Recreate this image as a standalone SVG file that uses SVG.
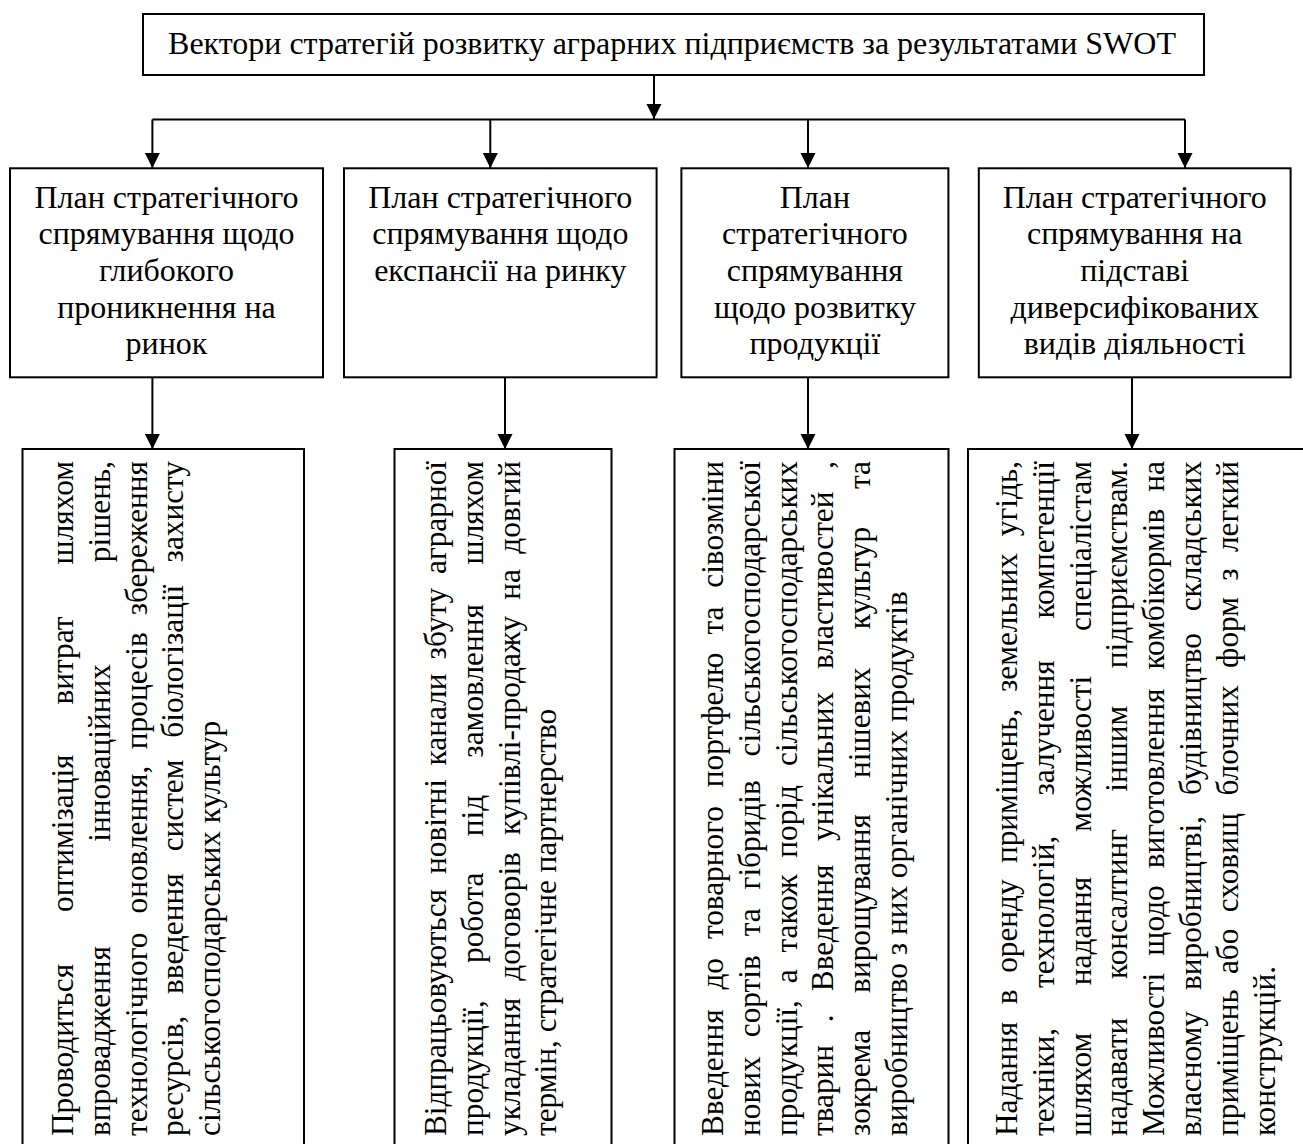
<svg xmlns="http://www.w3.org/2000/svg" width="1303" height="1144" viewBox="0 0 1303 1144">
<style>
.box{fill:#fff;stroke:#000;stroke-width:2}
.t{font-family:"Liberation Serif","Times New Roman",serif;font-size:32px;fill:#000}
.r{font-family:"Liberation Serif","Times New Roman",serif;font-size:31.3px;fill:#000}
.c{text-anchor:middle}
.m{text-anchor:middle}
.e{text-anchor:end}
.ln{fill:none;stroke:#000;stroke-width:2}
</style>
<defs>
<marker id="ah" markerUnits="userSpaceOnUse" markerWidth="16" markerHeight="16" refX="15" refY="7.5" orient="auto">
<path d="M0,0 L15,7.5 L0,15 Z" fill="#000"/>
</marker>
</defs>
<rect width="1303" height="1144" fill="#fff"/>

<g id="connectors">
<line class="ln" x1="654" y1="75" x2="654" y2="119" marker-end="url(#ah)"/>
<line class="ln" x1="152.4" y1="119.5" x2="1185" y2="119.5"/>
<line class="ln" x1="152.4" y1="119.5" x2="152.4" y2="168" marker-end="url(#ah)"/>
<line class="ln" x1="490.3" y1="119.5" x2="490.3" y2="168" marker-end="url(#ah)"/>
<line class="ln" x1="808" y1="119.5" x2="808" y2="168" marker-end="url(#ah)"/>
<line class="ln" x1="1185" y1="119.5" x2="1185" y2="168" marker-end="url(#ah)"/>
<line class="ln" x1="152.4" y1="377" x2="152.4" y2="449" marker-end="url(#ah)"/>
<line class="ln" x1="505" y1="377" x2="505" y2="449" marker-end="url(#ah)"/>
<line class="ln" x1="808" y1="377" x2="808" y2="449" marker-end="url(#ah)"/>
<line class="ln" x1="1132" y1="377" x2="1132" y2="449" marker-end="url(#ah)"/>
</g>

<g id="top">
<rect class="box" x="143" y="14" width="1061" height="61"/>
<text class="t c" x="672" y="53.5">Вектори стратегій розвитку аграрних підприємств за результатами SWOT</text>
</g>

<g id="plan1">
<rect class="box" x="10" y="168.3" width="313" height="209"/>
<text class="t c" x="166.5" y="207.5">План стратегічного</text>
<text class="t c" x="166.5" y="244.2">спрямування щодо</text>
<text class="t c" x="166.5" y="280.9">глибокого</text>
<text class="t c" x="166.5" y="317.6">проникнення на</text>
<text class="t c" x="166.5" y="354.3">ринок</text>
</g>

<g id="plan2">
<rect class="box" x="344" y="168.3" width="312.6" height="209"/>
<text class="t c" x="500.3" y="207.5">План стратегічного</text>
<text class="t c" x="500.3" y="244.2">спрямування щодо</text>
<text class="t c" x="500.3" y="280.9">експансії на ринку</text>
</g>

<g id="plan3">
<rect class="box" x="681.4" y="168.3" width="267" height="209"/>
<text class="t c" x="814.9" y="207.5">План</text>
<text class="t c" x="814.9" y="244.2">стратегічного</text>
<text class="t c" x="814.9" y="280.9">спрямування</text>
<text class="t c" x="814.9" y="317.6">щодо розвитку</text>
<text class="t c" x="814.9" y="354.3">продукції</text>
</g>

<g id="plan4">
<rect class="box" x="978.8" y="168.3" width="311.8" height="209"/>
<text class="t c" x="1134.7" y="207.5">План стратегічного</text>
<text class="t c" x="1134.7" y="244.2">спрямування на</text>
<text class="t c" x="1134.7" y="280.9">підставі</text>
<text class="t c" x="1134.7" y="317.6">диверсифікованих</text>
<text class="t c" x="1134.7" y="354.3">видів діяльності</text>
</g>

<g id="detail1">
<rect class="box" x="22.5" y="449" width="281.5" height="720"/>
<g transform="translate(73,1136) rotate(-90)">
<text class="r" y="0"><tspan x="0">Проводиться</tspan><tspan class="m" x="302.8">оптимізація</tspan><tspan class="m" x="475.5">витрат</tspan><tspan class="e" x="675">шляхом</tspan></text>
<text class="r" y="36.8"><tspan x="0">впровадження</tspan><tspan class="m" x="383.1">інноваційних</tspan><tspan class="e" x="675">рішень,</tspan></text>
<text class="r" y="73.6"><tspan x="0">технологічного</tspan><tspan class="m" x="296.4">оновлення,</tspan><tspan class="m" x="445.3">процесів</tspan><tspan class="e" x="675">збереження</tspan></text>
<text class="r" y="110.4"><tspan x="0">ресурсів,</tspan><tspan class="m" x="202.3">введення</tspan><tspan class="m" x="330.6">систем</tspan><tspan class="m" x="474.8">біологізації</tspan><tspan class="e" x="675">захисту</tspan></text>
<text class="r" y="147.2">сільськогосподарських культур</text>
</g>
</g>

<g id="detail2">
<rect class="box" x="394.5" y="449" width="217" height="720"/>
<g transform="translate(446,1136) rotate(-90)">
<text class="r" y="0"><tspan x="0">Відпрацьовуються</tspan><tspan class="m" x="309.5">новітні</tspan><tspan class="m" x="416.5">канали</tspan><tspan class="m" x="512.4">збуту</tspan><tspan class="e" x="675">аграрної</tspan></text>
<text class="r" y="36.8"><tspan x="0">продукції,</tspan><tspan class="m" x="218.3">робота</tspan><tspan class="m" x="320.5">під</tspan><tspan class="m" x="455.1">замовлення</tspan><tspan class="e" x="675">шляхом</tspan></text>
<text class="r" y="73.6"><tspan x="0">укладання</tspan><tspan class="m" x="219.6">договорів</tspan><tspan class="m" x="410.5">купівлі-продажу</tspan><tspan class="m" x="551.7">на</tspan><tspan class="e" x="675">довгий</tspan></text>
<text class="r" y="110.4">термін, стратегічне партнерство</text>
</g>
</g>

<g id="detail3">
<rect class="box" x="674.5" y="449" width="274" height="720"/>
<g transform="translate(723,1136) rotate(-90)">
<text class="r" y="0"><tspan x="0">Введення</tspan><tspan class="m" x="162.2">до</tspan><tspan class="m" x="263.4">товарного</tspan><tspan class="m" x="416.1">портфелю</tspan><tspan class="m" x="515.4">та</tspan><tspan class="e" x="675">сівозміни</tspan></text>
<text class="r" y="36.8"><tspan x="0">нових</tspan><tspan class="m" x="139.8">сортів</tspan><tspan class="m" x="213.8">та</tspan><tspan class="m" x="301.2">гібридів</tspan><tspan class="e" x="675">сільськогосподарської</tspan></text>
<text class="r" y="73.6"><tspan x="0">продукції,</tspan><tspan class="m" x="159.7">а</tspan><tspan class="m" x="222.5">також</tspan><tspan class="m" x="314.6">порід</tspan><tspan class="e" x="675">сільськогосподарських</tspan></text>
<text class="r" y="110.4"><tspan x="0">тварин</tspan><tspan class="m" x="117.8">.</tspan><tspan class="m" x="208.2">Введення</tspan><tspan class="m" x="369.6">унікальних</tspan><tspan class="m" x="555.8">властивостей</tspan><tspan class="e" x="675">,</tspan></text>
<text class="r" y="147.2"><tspan x="0">зокрема</tspan><tspan class="m" x="232.5">вирощування</tspan><tspan class="m" x="413.4">нішевих</tspan><tspan class="m" x="557.9">культур</tspan><tspan class="e" x="675">та</tspan></text>
<text class="r" y="184">виробництво з них органічних продуктів</text>
</g>
</g>

<g id="detail4">
<rect class="box" x="968" y="449" width="345" height="720"/>
<g transform="translate(1017,1136) rotate(-90)">
<text class="r" y="0"><tspan x="0">Надання</tspan><tspan class="m" x="139.1">в</tspan><tspan class="m" x="209.9">оренду</tspan><tspan class="m" x="350.2">приміщень,</tspan><tspan class="m" x="513.4">земельних</tspan><tspan class="e" x="675">угідь,</tspan></text>
<text class="r" y="36.8"><tspan x="0">техніки,</tspan><tspan class="m" x="224.2">технологій,</tspan><tspan class="m" x="408.1">залучення</tspan><tspan class="e" x="675">компетенції</tspan></text>
<text class="r" y="73.6"><tspan x="0">шляхом</tspan><tspan class="m" x="205">надання</tspan><tspan class="m" x="382.3">можливості</tspan><tspan class="e" x="675">спеціалістам</tspan></text>
<text class="r" y="110.4"><tspan x="0">надавати</tspan><tspan class="m" x="232.1">консалтинг</tspan><tspan class="m" x="387.3">іншим</tspan><tspan class="e" x="675">підприємствам.</tspan></text>
<text class="r" y="147.2"><tspan x="0">Можливості</tspan><tspan class="m" x="215.5">щодо</tspan><tspan class="m" x="357.6">виготовлення</tspan><tspan class="m" x="546.8">комбікормів</tspan><tspan class="e" x="675">на</tspan></text>
<text class="r" y="184"><tspan x="0">власному</tspan><tspan class="m" x="233">виробництві,</tspan><tspan class="m" x="421.9">будівництво</tspan><tspan class="e" x="675">складських</tspan></text>
<text class="r" y="220.8"><tspan x="0">приміщень</tspan><tspan class="m" x="184.7">або</tspan><tspan class="m" x="273.4">сховищ</tspan><tspan class="m" x="395.7">блочних</tspan><tspan class="m" x="503.6">форм</tspan><tspan class="m" x="561.5">з</tspan><tspan class="e" x="675">легкий</tspan></text>
<text class="r" y="257.6">конструкцій.</text>
</g>
</g>
</svg>
